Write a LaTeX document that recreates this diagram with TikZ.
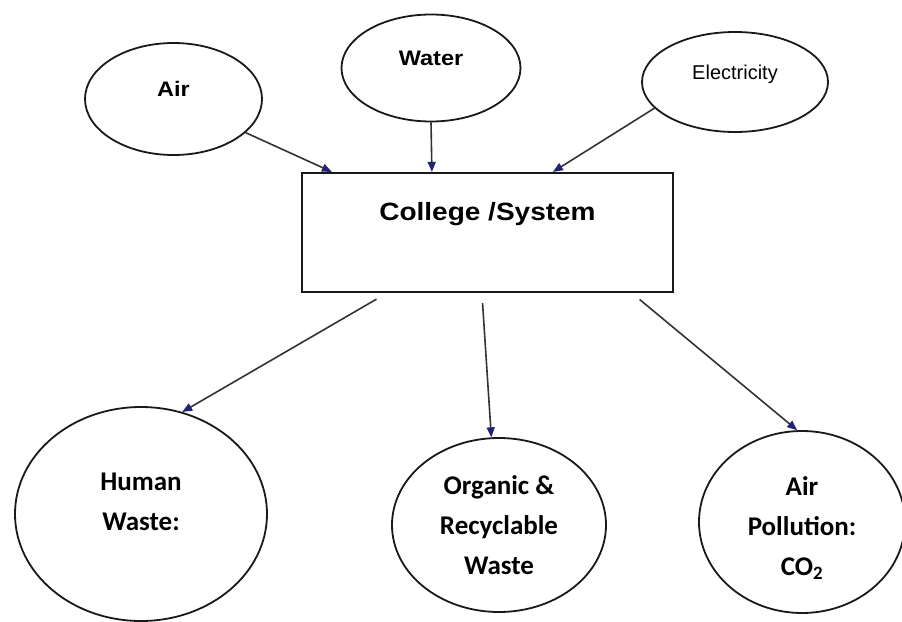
\documentclass[tikz,border=0pt]{standalone}
\usepackage{fontspec}
\setmainfont{Liberation Sans}
\newfontfamily\headfont[FakeStretch=1.12]{Liberation Sans}
\newfontfamily\bodyfont{Carlito}
\usetikzlibrary{positioning,shapes,arrows.meta}
\definecolor{TipBlue}{RGB}{35,35,115}
\tikzstyle{InNode}=[ellipse, draw=black!90, line width=1.8pt, inner sep=0pt, font=\headfont\fontsize{21pt}{24pt}\selectfont\bfseries, text height=15pt, text depth=20pt]
\tikzstyle{SysNode}=[rectangle, draw=black!90, line width=2.2pt, minimum width=371pt, minimum height=119pt, font=\headfont\fontsize{25pt}{28pt}\selectfont\bfseries, text height=18pt, text depth=42pt]
\tikzstyle{OutNode}=[ellipse, draw=black!90, line width=1.8pt, inner sep=0pt, align=center, font=\bodyfont\fontsize{27pt}{40pt}\selectfont\bfseries]
\tikzstyle{Flow}=[line width=1.6pt, draw=black!80, -{Triangle[length=10pt,width=8pt,color=TipBlue]}]

\begin{document}
\begin{tikzpicture}[x=1pt, y=-1pt]
      \useasboundingbox (0,0) rectangle (902,621);
      \node[InNode, minimum width=177pt, minimum height=112pt] (Air) at (173.5,99) {Air};
      \node[InNode, minimum width=179pt, minimum height=107pt] (Water) at (431,68) {Water};
      \node[InNode, minimum width=186pt, minimum height=100pt, font=\rmfamily\fontsize{20pt}{24pt}\selectfont] (Elec) at (735,82) {Electricity};
      \node[SysNode] (Sys) at (487.5,232.5) {College /System};
      \node[OutNode, minimum width=252pt, minimum height=214pt, text depth=24pt] (Human) at (141,514) {Human\\Waste:};
      \node[OutNode, minimum width=214pt, minimum height=174pt] (Organic) at (499,525) {Organic \&\\Recyclable\\Waste};
      \node[OutNode, minimum width=206pt, minimum height=182pt, text height=111pt] (Pollution) at (802,522) {Air\\Pollution:\\CO\textsubscript{2}};
      % inputs
      \draw[Flow] (Air.-25) -- ([xshift=31pt]Sys.north west);
      \draw[Flow] (Water.south) -- ([xshift=131pt]Sys.north west);
      \draw[Flow] (Elec.198) -- ([xshift=252pt]Sys.north west);
      % outputs
      \draw[Flow, shorten <=12pt] ([xshift=86pt]Sys.south west) -- (Human.68);
      \draw[Flow, shorten <=10pt] ([xshift=181pt]Sys.south west) -- (Organic.95);
      \draw[Flow, shorten <=10pt] ([xshift=331pt]Sys.south west) -- (Pollution.93);
    \end{tikzpicture}
\end{document}
